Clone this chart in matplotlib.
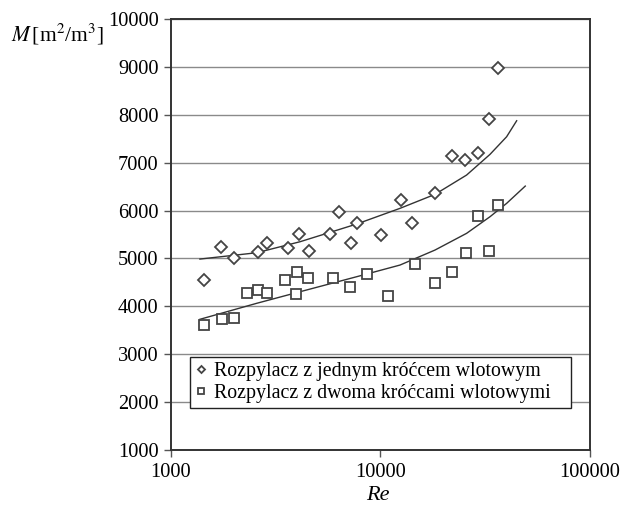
import numpy as np
from matplotlib import pyplot as plt

plt.rcParams['font.family'] = ['Liberation Serif', 'DejaVu Serif']
plt.rcParams['mathtext.fontset'] = 'stix'

# Data
Re_one = [1440, 1730, 2005, 2590, 2880, 3630, 4100, 4560, 5740, 6340, 7230, 7750,
          10090, 12500, 14200, 18300, 21900, 25400, 29300, 33000, 36500]
M_one = [4560, 5240, 5000, 5130, 5330, 5220, 5510, 5150, 5510, 5970, 5330, 5750,
         5480, 6210, 5730, 6360, 7130, 7060, 7210, 7910, 8980]

Re_two = [1440, 1745, 2005, 2310, 2590, 2880, 3500, 3960, 4010, 4490, 5960, 7170,
          8650, 10860, 14600, 18300, 21900, 25600, 29300, 33000, 36500]
M_two = [3620, 3730, 3760, 4280, 4340, 4280, 4550, 4260, 4710, 4590, 4590, 4400,
         4670, 4220, 4890, 4490, 4710, 5110, 5880, 5150, 6120]

# trend curves as drawn in the chart
Re_trend_one = [1374, 2564, 4130, 7690, 12390, 18200, 25760, 33320, 40000, 44670]
M_trend_one = [4987, 5119, 5349, 5718, 6046, 6338, 6741, 7173, 7541, 7875]
Re_trend_two = [1374, 2564, 4130, 7690, 12390, 18200, 25760, 33320, 40000, 49100]
M_trend_two = [3729, 4063, 4305, 4618, 4862, 5175, 5524, 5871, 6150, 6511]

labels = ["Rozpylacz z jednym króćcem wlotowym",
          "Rozpylacz z dwoma króćcami wlotowymi"]

fig = plt.figure(figsize=(6.23, 5.09), dpi=100)
ax = fig.add_axes([0.2745, 0.1159, 0.6725, 0.8468])

ax.set_axisbelow(True)
ax.grid(axis='y', color='#8a8a8a', linewidth=1.0)

ax.plot(Re_trend_one, M_trend_one, color='#333333', linewidth=1.0)
ax.plot(Re_trend_two, M_trend_two, color='#333333', linewidth=1.0)

ax.plot(Re_one, M_one, linestyle='none', marker='D', markersize=6.5,
        markerfacecolor='white', markeredgecolor='#444444', markeredgewidth=1.3,
        label=labels[0])
ax.plot(Re_two, M_two, linestyle='none', marker='s', markersize=7.5,
        markerfacecolor='white', markeredgecolor='#444444', markeredgewidth=1.3,
        label=labels[1])

ax.set_xscale('log')
ax.set_xlim(1000, 100000)
ax.set_ylim(1000, 10000)
ax.set_xticks([1000, 10000, 100000])
ax.set_xticklabels(['1000', '10000', '100000'])
ax.minorticks_off()
ax.set_yticks(range(1000, 10001, 1000))
ax.tick_params(direction='out', length=5, width=1, color='#555555',
               labelsize=14.7, pad=4)

for s in ax.spines.values():
    s.set_color('#333333')
    s.set_linewidth(1.4)

leg = ax.legend(loc='upper left', bbox_to_anchor=(0.045, 0.215, 0.91, 0.0),
                mode='expand', fontsize=14.3,
                markerscale=0.55, handlelength=0.6, handletextpad=0.35,
                borderpad=0.25, labelspacing=0.12, fancybox=False,
                edgecolor='#222222', framealpha=1, borderaxespad=0)
leg.get_frame().set_linewidth(1.0)

fig.text(0.017, 0.932, r'$M\,$[m$^2$/m$^3$]', fontsize=15.5, va='center', ha='left')
fig.text(0.607, 0.027, 'Re', fontsize=16, style='italic', ha='center', va='center')

fig.savefig('out.png', dpi=100)
